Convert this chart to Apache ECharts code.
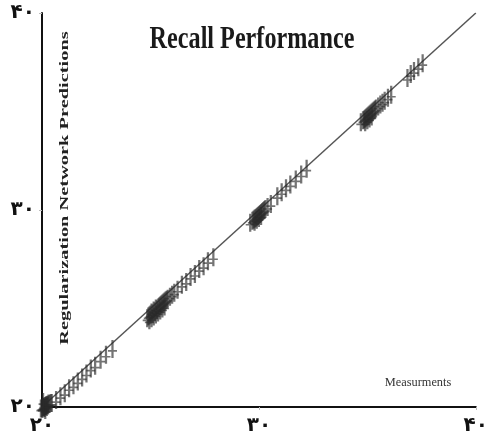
<!DOCTYPE html>
<html>
<head>
<meta charset="utf-8">
<script src="https://cdn.jsdelivr.net/npm/echarts@6/dist/echarts.min.js"></script>
<style>
  html, body { margin: 0; padding: 0; background: #fff; }
  #chart { width: 491px; height: 439px; }
</style>
</head>
<body>
<div id="chart"></div>
<script>
// Measured values and network predictions, grouped by level
var measured = [
  20.00, 20.05, 20.10, 20.15, 20.20, 20.25, 20.30, 20.08, 20.18, 20.35, 20.02, 20.12, 20.22, 20.28, 19.95, 20.40, 20.05, 20.15,
  20.45, 20.65, 20.85, 21.05, 21.25, 21.45, 21.65, 21.85, 22.05, 22.25, 22.45, 22.70, 22.95, 23.25,
  24.85, 24.90, 24.95, 25.00, 25.05, 25.10, 25.15, 25.20, 25.25, 25.30, 25.35, 25.40, 25.45, 25.50, 25.55, 25.60, 25.65, 25.70, 25.75, 25.80, 25.90, 26.00, 26.10,
  24.95, 25.05, 25.15, 25.25, 25.35, 25.45, 25.55, 25.65,
  26.25, 26.45, 26.65, 26.85, 27.05, 27.25, 27.45, 27.65, 27.90,
  29.60, 29.70, 29.75, 29.80, 29.85, 29.90, 29.95, 30.00, 30.05, 30.10, 30.15, 30.20, 30.25, 30.30, 30.40, 30.55,
  29.80, 29.90, 30.00, 30.10,
  30.85, 31.05, 31.25, 31.45, 31.70, 31.95, 32.20,
  34.70, 34.80, 34.85, 34.90, 34.95, 35.00, 35.05, 35.10, 35.15, 35.20, 35.25, 35.30, 35.35, 35.40, 35.50, 35.60, 35.70, 35.80, 35.95, 36.10,
  34.90, 35.00, 35.10, 35.20,
  36.85, 37.00, 37.15, 37.35, 37.55
];
var predicted = [
  19.95, 20.00, 20.02, 20.05, 20.10, 20.12, 20.18, 19.98, 20.05, 20.15, 19.90, 19.95, 20.00, 20.08, 19.92, 20.20, 20.25, 19.85,
  20.20, 20.35, 20.55, 20.70, 20.95, 21.10, 21.30, 21.50, 21.70, 21.95, 22.10, 22.40, 22.65, 22.95,
  24.50, 24.60, 24.65, 24.70, 24.80, 24.75, 24.90, 24.85, 25.00, 24.95, 25.05, 25.10, 25.15, 25.20, 25.25, 25.30, 25.35, 25.40, 25.45, 25.50, 25.60, 25.70, 25.80,
  24.40, 24.50, 24.60, 24.70, 24.80, 24.90, 25.00, 25.10,
  25.95, 26.20, 26.35, 26.60, 26.75, 27.00, 27.15, 27.40, 27.60,
  29.35, 29.45, 29.50, 29.55, 29.60, 29.65, 29.70, 29.75, 29.80, 29.85, 29.90, 29.95, 30.00, 30.05, 30.15, 30.30,
  29.40, 29.50, 29.60, 29.70,
  30.70, 30.90, 31.10, 31.30, 31.55, 31.80, 32.10,
  34.45, 34.55, 34.60, 34.65, 34.70, 34.75, 34.80, 34.85, 34.90, 34.95, 35.00, 35.05, 35.10, 35.15, 35.25, 35.35, 35.45, 35.55, 35.70, 35.85,
  34.45, 34.55, 34.65, 34.75,
  36.70, 36.90, 37.05, 37.25, 37.45
];
var identityLine = [20, 40];
var tickLabels = { 20: '۲۰', 30: '۳۰', 40: '۴۰' };

var points = measured.map(function (m, i) { return [m, predicted[i]]; });

var chart = echarts.init(document.getElementById('chart'), null, { renderer: 'canvas' });

chart.setOption({
  animation: false,
  backgroundColor: '#ffffff',
  grid: { left: 42, right: 10, top: 13, bottom: 32 },
  xAxis: {
    type: 'value', min: 20, max: 40, interval: 10,
    axisLine: { lineStyle: { color: '#111', width: 2 } },
    axisTick: { show: true, length: 3, lineStyle: { color: '#bbb' } },
    splitLine: { show: false },
    axisLabel: {
      formatter: function (v) { return tickLabels[v] || ''; },
      fontFamily: 'DejaVu Sans', fontWeight: 'bold', fontSize: 20, color: '#111', margin: 9
    }
  },
  yAxis: {
    type: 'value', min: 20, max: 40, interval: 10,
    axisLine: { lineStyle: { color: '#111', width: 2 } },
    axisTick: { show: true, length: 3, lineStyle: { color: '#bbb' } },
    splitLine: { show: false },
    axisLabel: {
      formatter: function (v) { return tickLabels[v] || ''; },
      fontFamily: 'DejaVu Sans', fontWeight: 'bold', fontSize: 20, color: '#111', margin: 7
    }
  },
  graphic: [
    {
      type: 'text',
      x: 252, y: 40,
      style: {
        text: 'Recall Performance',
        font: 'bold 31px "Liberation Serif"',
        fill: '#1a1a1a', align: 'center', verticalAlign: 'middle'
      },
      scaleX: 0.78
    },
    {
      type: 'text',
      x: 65, y: 188, rotation: Math.PI / 2,
      style: {
        text: 'Regularization Network Predictions',
        font: 'bold 12px "Liberation Serif"',
        fill: '#222', align: 'center', verticalAlign: 'middle'
      },
      scaleX: 1.7
    },
    {
      type: 'text',
      x: 418, y: 383,
      style: {
        text: 'Measurments',
        font: '13px "Liberation Serif"',
        fill: '#333', align: 'center', verticalAlign: 'middle'
      },
      scaleX: 0.95
    }
  ],
  series: [
    {
      type: 'line',
      data: [[identityLine[0], identityLine[0]], [identityLine[1], identityLine[1]]],
      symbol: 'none',
      lineStyle: { color: '#555', width: 1.5 },
      z: 1
    },
    {
      type: 'scatter',
      data: points,
      clip: false,
      symbol: 'path://M4,0h2v16h-2zM1,9h8v1.5h-8z',
      symbolSize: [9, 18],
      itemStyle: { color: '#2a2a2a', opacity: 0.65 },
      z: 2
    }
  ]
});
</script>
</body>
</html>
